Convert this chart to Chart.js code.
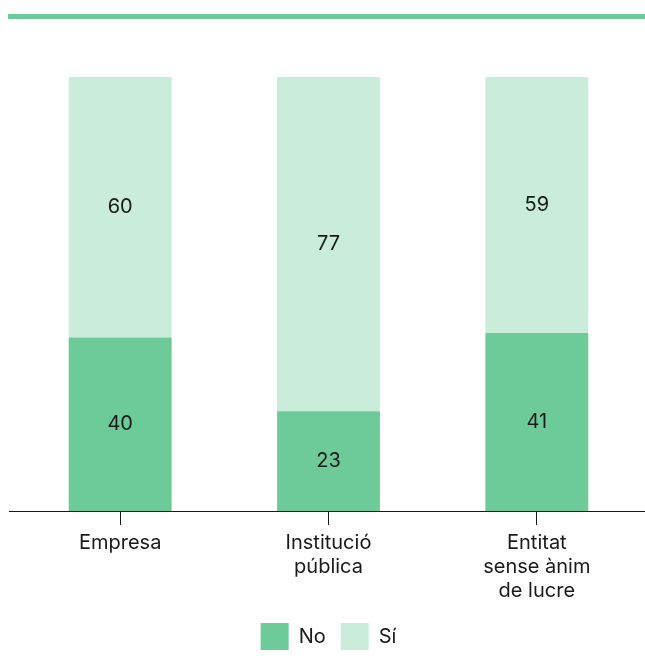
<!DOCTYPE html>
<html>
<head>
<meta charset="utf-8">
<script src="https://cdn.jsdelivr.net/npm/chart.js@4/dist/chart.umd.min.js"></script>
<style>
html,body{margin:0;padding:0;background:#fff;}
#wrap{position:relative;width:645px;height:668px;}
</style>
</head>
<body>
<div id="wrap"><canvas id="c" width="645" height="668"></canvas></div>
<script>
const categories = [['Empresa'], ['Institució', 'pública'], ['Entitat', 'sense ànim', 'de lucre']];
const seriesNo = [40, 23, 41];
const seriesSi = [60, 77, 59];
const seriesNames = ['No', 'Sí'];

const DARK = '#6ccb99';
const LIGHT = '#c9ecdb';
const INK = '#1a1a1a';
const FONT = 'Inter, "Noto Sans", sans-serif';

const decor = {
  id: 'decor',
  beforeDraw(chart) {
    const ctx = chart.ctx;
    ctx.save();
    ctx.fillStyle = DARK;
    ctx.fillRect(8, 14, 637, 5);
    ctx.restore();
  },
  afterDraw(chart) {
    const ctx = chart.ctx;
    const y = Math.round(chart.chartArea.bottom) + 0.5;
    ctx.save();
    ctx.strokeStyle = INK;
    ctx.lineWidth = 1;
    ctx.beginPath();
    ctx.moveTo(9, y);
    ctx.lineTo(645, y);
    ctx.stroke();
    ctx.restore();
  }
};

const segLabels = {
  id: 'segLabels',
  afterDatasetsDraw(chart) {
    const ctx = chart.ctx;
    ctx.save();
    ctx.font = '20px ' + FONT;
    ctx.fillStyle = INK;
    ctx.textAlign = 'center';
    ctx.textBaseline = 'middle';
    chart.data.datasets.forEach((ds, i) => {
      const meta = chart.getDatasetMeta(i);
      meta.data.forEach((bar, j) => {
        const y = (bar.y + bar.base) / 2;
        ctx.fillText(String(ds.data[j]), bar.x, y);
      });
    });
    ctx.restore();
  }
};

new Chart(document.getElementById('c'), {
  type: 'bar',
  data: {
    labels: categories,
    datasets: [
      { label: seriesNames[0], data: seriesNo, backgroundColor: DARK, borderWidth: 0 },
      { label: seriesNames[1], data: seriesSi, backgroundColor: LIGHT, borderWidth: 0 }
    ]
  },
  options: {
    responsive: false,
    animation: false,
    devicePixelRatio: 1,
    layout: { padding: { left: 16, right: 4, top: 77, bottom: 8 } },
    datasets: { bar: { barPercentage: 0.494, categoryPercentage: 1 } },
    scales: {
      x: {
        stacked: true,
        grid: { offset: false, drawOnChartArea: false, drawTicks: true, tickLength: 14, color: INK, lineWidth: 1 },
        border: { display: false },
        ticks: { color: INK, font: { family: FONT, size: 20, lineHeight: 1.2 }, padding: 6, maxRotation: 0 },
        afterFit(scale) { scale.height = 97; }
      },
      y: {
        stacked: true,
        display: false,
        min: 0, max: 100
      }
    },
    plugins: {
      legend: {
        position: 'bottom',
        labels: { boxWidth: 28, boxHeight: 27, color: INK, font: { family: FONT, size: 20 }, padding: 15 }
      },
      tooltip: { enabled: false }
    }
  },
  plugins: [decor, segLabels]
});
</script>
</body>
</html>
